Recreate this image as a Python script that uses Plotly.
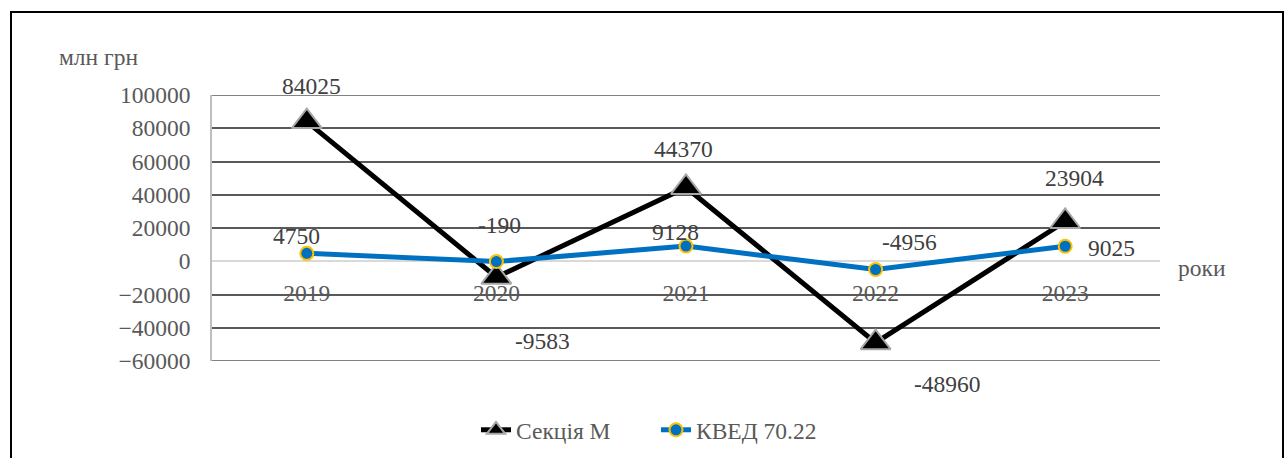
import plotly.graph_objects as go

years = ["2019", "2020", "2021", "2022", "2023"]
section_m = [84025, -9583, 44370, -48960, 23904]
kved_7022 = [4750, -190, 9128, -4956, 9025]

# label offsets in pixels (dx, dy) relative to each marker
section_m_shift = [(5, 36), (46, -64), (-3, 38), (72, -41), (9, 44)]
kved_shift = [(-10, 17), (3, 37), (-11, 14), (34, 27), (46, -2)]

Y_MIN, Y_MAX, Y_STEP = -60000, 100000, 20000

FONT = "Times New Roman, Liberation Serif, DejaVu Serif, serif"
FS = 23.5
TXT = "#404040"
TICK = "#595959"
GRID = "#595959"

W, H = 1285, 458
ML, MR, MT, MB = 212, 125, 95, 97
PW, PH = W - ML - MR, H - MT - MB

fig = go.Figure()
fig.add_trace(go.Scatter(
    x=years, y=section_m, name="Секція М", mode="lines+markers",
    line=dict(color="#000000", width=5),
    marker=dict(symbol="triangle-up", size=26, color="#000000",
                line=dict(color="#A6A6A6", width=2)),
))
fig.add_trace(go.Scatter(
    x=years, y=kved_7022, name="КВЕД 70.22", mode="lines+markers",
    line=dict(color="#0070C0", width=5),
    marker=dict(symbol="circle", size=13, color="#0070C0",
                line=dict(color="#FFC000", width=2)),
))

annotations = []
for vals, shifts in ((section_m, section_m_shift), (kved_7022, kved_shift)):
    # category positions are given by index on the category axis
    for i, (v, (dx, dy)) in enumerate(zip(vals, shifts)):
        annotations.append(dict(
            x=i, y=v, xref="x", yref="y", text=str(v), showarrow=False,
            xshift=dx, yshift=dy, font=dict(family=FONT, size=FS, color=TXT),
        ))

def px_x(p):
    return (p - ML) / PW

def px_y(p):
    return (H - MB - p) / PH

annotations.append(dict(
    x=px_x(57), y=px_y(57), xref="paper", yref="paper", text="млн грн",
    showarrow=False, xanchor="left", yanchor="middle",
    font=dict(family=FONT, size=FS, color=TICK),
))
annotations.append(dict(
    x=px_x(1176), y=px_y(268), xref="paper", yref="paper", text="роки",
    showarrow=False, xanchor="left", yanchor="middle",
    font=dict(family=FONT, size=FS, color=TICK),
))

zero_pos = (0 - Y_MIN) / (Y_MAX - Y_MIN)

# outer frame plus the gridlines lying on the range edges
shapes = [dict(
    type="rect", xref="paper", yref="paper",
    x0=px_x(11), x1=px_x(1283), y0=px_y(475), y1=px_y(12),
    line=dict(color="#000000", width=2), fillcolor="rgba(0,0,0,0)",
    layer="below",
)]
for yv in (Y_MIN, Y_MAX):
    shapes.append(dict(
        type="line", xref="paper", yref="y", x0=0, x1=1, y0=yv, y1=yv,
        line=dict(color=GRID, width=1.5), layer="below",
    ))

fig.update_layout(
    width=W, height=H,
    margin=dict(l=ML, r=MR, t=MT, b=MB, autoexpand=False),
    paper_bgcolor="white", plot_bgcolor="white",
    font=dict(family=FONT, size=FS, color=TICK),
    showlegend=True,
    legend=dict(orientation="h", x=px_x(656), y=px_y(430),
                xanchor="center", yanchor="middle",
                font=dict(family=FONT, size=FS, color=TICK),
                entrywidth=135, tracegroupgap=0),
    xaxis=dict(
        type="category", range=[-0.5, 4.5],
        anchor="free", position=zero_pos,
        showgrid=False, showline=False, zeroline=False,
        ticks="", ticklabelstandoff=15,
        tickfont=dict(family=FONT, size=FS, color=TICK),
    ),
    yaxis=dict(
        range=[Y_MIN, Y_MAX], dtick=Y_STEP, tick0=0, tickformat="d",
        showgrid=True, gridcolor=GRID, gridwidth=1.5,
        zeroline=True, zerolinecolor="#D9D9D9", zerolinewidth=1.5,
        showline=True, linecolor="#BFBFBF", linewidth=1.5,
        ticks="", ticklabelstandoff=15,
        tickfont=dict(family=FONT, size=FS, color=TICK),
    ),
    annotations=annotations,
    shapes=shapes,
)

fig.write_html("out.html")
